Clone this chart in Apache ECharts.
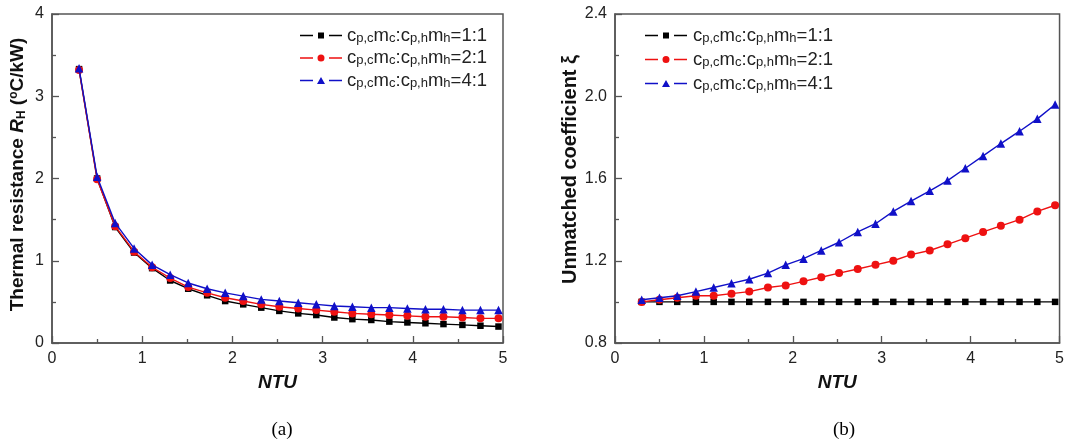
<!DOCTYPE html>
<html>
<head>
<meta charset="utf-8">
<script src="https://cdn.jsdelivr.net/npm/echarts@6/dist/echarts.min.js"></script>
<style>
html,body{margin:0;padding:0;background:#fff;}
#c{width:1067px;height:445px;}
</style>
</head>
<body>
<div id="c"></div>
<script>
// ---- data ----
var ntu = [0.30,0.50,0.70,0.91,1.11,1.31,1.51,1.72,1.92,2.12,2.32,2.52,2.73,2.93,3.13,3.33,3.54,3.74,3.94,4.14,4.34,4.55,4.75,4.95];
var ratios = ['1:1','2:1','4:1'];

// (a) thermal resistance R_H (°C/kW)
var rH_11 = [3.33,2.00,1.41,1.10,0.91,0.76,0.66,0.58,0.51,0.47,0.43,0.39,0.36,0.34,0.31,0.29,0.28,0.26,0.25,0.24,0.23,0.22,0.21,0.20];
var rH_21 = [3.32,1.99,1.42,1.11,0.92,0.79,0.68,0.61,0.55,0.51,0.47,0.44,0.42,0.40,0.38,0.36,0.35,0.34,0.33,0.32,0.32,0.31,0.30,0.30];
var rH_41 = [3.34,2.02,1.46,1.15,0.95,0.83,0.73,0.66,0.61,0.57,0.53,0.51,0.49,0.47,0.45,0.44,0.43,0.43,0.42,0.41,0.41,0.40,0.40,0.40];

// (b) unmatched coefficient xi
var xi_11 = [1.00,1.00,1.00,1.00,1.00,1.00,1.00,1.00,1.00,1.00,1.00,1.00,1.00,1.00,1.00,1.00,1.00,1.00,1.00,1.00,1.00,1.00,1.00,1.00];
var xi_21 = [1.00,1.01,1.02,1.03,1.03,1.04,1.05,1.07,1.08,1.10,1.12,1.14,1.16,1.18,1.20,1.23,1.25,1.28,1.31,1.34,1.37,1.40,1.44,1.47];
var xi_41 = [1.01,1.02,1.03,1.05,1.07,1.09,1.11,1.14,1.18,1.21,1.25,1.29,1.34,1.38,1.44,1.49,1.54,1.59,1.65,1.71,1.77,1.83,1.89,1.96];

var xTicks = [0,1,2,3,4,5];
var panelLabels = ['(a)','(b)'];

// ---- chart ----
var FONT = 'Liberation Sans, Arial, sans-serif';
function pairs(arr){ return ntu.map(function(x,i){ return [x, arr[i]]; }); }

var styles = [
  {color:'#000000', symbol:'rect', size:6.5},
  {color:'#ee1111', symbol:'circle', size:8},
  {color:'#1010c8', symbol:'triangle', size:8.5}
];
// legend glyphs "— marker —" (line, gap, marker, gap, line) in a 42 x 8 box
var legendIcons = [
  'path://M0,0M42,8M0,3.3H13V4.7H0Z M18,1H24V7H18Z M29,3.3H42V4.7H29Z',
  'path://M0,0M42,8M0,3.3H13V4.7H0Z M17.5,4A3.5,3.5 0 1,0 24.5,4A3.5,3.5 0 1,0 17.5,4Z M29,3.3H42V4.7H29Z',
  'path://M0,0M42,8M0,3.3H13V4.7H0Z M21,0.5L25,7.5H17Z M29,3.3H42V4.7H29Z'
];

function legendFormatter(name){
  return '{n|c}{s|p,c}{n|m}{s|c}{n|:c}{s|p,h}{n|m}{s|h}{n|=' + name + '}';
}
var legendRich = {
  n:{fontSize:18.5, lineHeight:18, color:'#222', fontFamily:FONT},
  s:{fontSize:13, lineHeight:11, verticalAlign:'bottom', color:'#222', fontFamily:FONT}
};
function legendData(){
  return ratios.map(function(r,k){ return {name:r, icon:legendIcons[k], itemStyle:{color:styles[k].color, borderWidth:0}}; });
}

function makeSeries(dataArr, gi){
  return dataArr.map(function(arr, k){
    return {
      type:'line', name:ratios[k], xAxisIndex:gi, yAxisIndex:gi,
      data:pairs(arr), symbol:styles[k].symbol, symbolSize:styles[k].size,
      showSymbol:true, animation:false, z:2+k,
      lineStyle:{color:styles[k].color, width:1.4},
      itemStyle:{color:styles[k].color}
    };
  });
}

var axisCommon = {
  axisLine:{show:true, lineStyle:{color:'#555', width:1.5}},
  axisTick:{show:true, inside:true, length:7, lineStyle:{color:'#555', width:1.3}},
  minorTick:{show:true, splitNumber:2, length:4, lineStyle:{color:'#555', width:1.3}},
  splitLine:{show:false},
  axisLabel:{color:'#222', fontSize:16, fontFamily:FONT, margin:8}
};
function merge(a,b){ var o={}; for(var k in a) o[k]=a[k]; for(var k2 in b) o[k2]=b[k2]; return o; }

var option = {
  backgroundColor:'#fff',
  animation:false,
  title: panelLabels.map(function(t, i){
    return {text:t, left: i===0 ? 277 : 839, top:416, textAlign:'center',
      textStyle:{fontFamily:'Liberation Serif, Times New Roman, serif', fontWeight:'normal', fontSize:19, color:'#000'}};
  }),
  grid:[
    {left:52, right:564, top:14, bottom:102, show:true, borderColor:'#555', borderWidth:1.5, backgroundColor:'transparent'},
    {left:615, right:3, top:14, bottom:102, show:true, borderColor:'#555', borderWidth:1.5, backgroundColor:'transparent'}
  ],
  legend:[
    {data:legendData(), left:300, top:26, padding:0, orient:'vertical', itemWidth:42, itemHeight:8, itemGap:3.5,
     formatter:legendFormatter, textStyle:{rich:legendRich}, selectedMode:false},
    {data:legendData(), left:645, top:26, padding:0, orient:'vertical', itemWidth:44, itemHeight:8, itemGap:5,
     formatter:legendFormatter, textStyle:{rich:legendRich}, selectedMode:false}
  ],
  xAxis:[0,1].map(function(gi){
    return merge(axisCommon, {
      type:'value', gridIndex:gi, min:xTicks[0], max:xTicks[xTicks.length-1], interval:1,
      name:'NTU', nameLocation:'middle', nameGap:30,
      nameTextStyle:{fontFamily:FONT, fontWeight:'bold', fontStyle:'italic', fontSize:19, color:'#111'}
    });
  }),
  yAxis:[
    merge(axisCommon, {
      type:'value', gridIndex:0, min:0, max:4, interval:1,
      name:'{b|Thermal resistance }{i|R}{sub|H}{b| (}{sup|o}{b|C/kW)}',
      nameLocation:'middle', nameGap:24, nameRotate:90,
      nameTextStyle:{color:'#111', padding:[0,0,0,8], rich:{
        b:{fontFamily:FONT, fontWeight:'bold', fontSize:19, lineHeight:20, color:'#111'},
        i:{fontFamily:FONT, fontWeight:'bold', fontStyle:'italic', fontSize:19, lineHeight:20, color:'#111'},
        sub:{fontFamily:FONT, fontWeight:'bold', fontSize:12, lineHeight:11, verticalAlign:'bottom', color:'#111'},
        sup:{fontFamily:FONT, fontWeight:'bold', fontSize:12, lineHeight:11, verticalAlign:'top', color:'#111'}
      }}
    }),
    merge(axisCommon, {
      type:'value', gridIndex:1, min:0.8, max:2.4, interval:0.4,
      axisLabel:{color:'#222', fontSize:16, fontFamily:FONT, margin:8, formatter:function(v){return v.toFixed(1);}},
      name:'Unmatched coefficient ξ',
      nameLocation:'middle', nameGap:30, nameRotate:90,
      nameTextStyle:{fontFamily:FONT, fontWeight:'bold', fontSize:20, color:'#111', padding:[0,0,0,18]}
    })
  ],
  series: makeSeries([rH_11, rH_21, rH_41], 0).concat(makeSeries([xi_11, xi_21, xi_41], 1))
};

var chart = echarts.init(document.getElementById('c'), null, {renderer:'canvas'});
chart.setOption(option);
</script>
</body>
</html>
